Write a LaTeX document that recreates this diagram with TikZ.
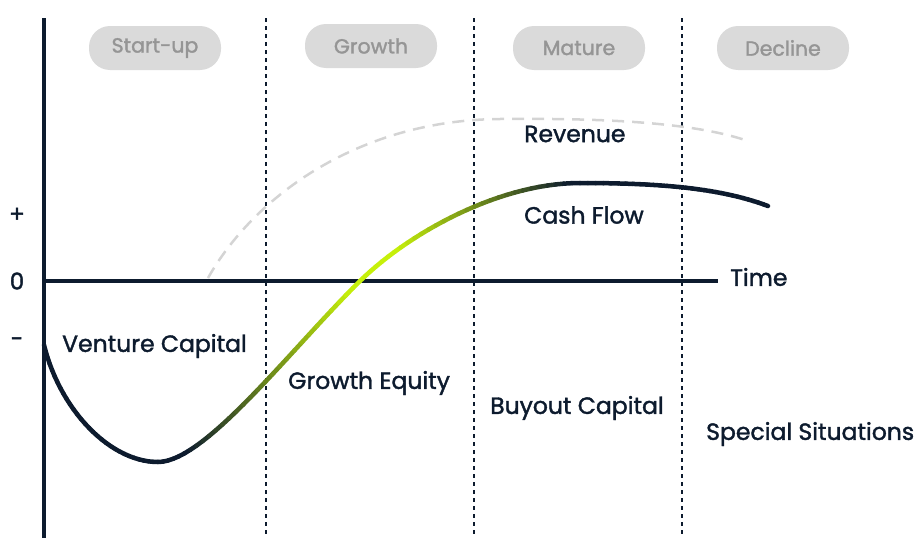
\documentclass[tikz,border=0pt]{standalone}
\usepackage{fontspec}
\setmainfont{Poppins}[UprightFeatures={FakeBold=1.6}]
\definecolor{navy}{HTML}{0D1B2E}
\definecolor{lime}{HTML}{C6F00A}
\definecolor{pillgrey}{HTML}{DADADA}
\definecolor{pilltext}{HTML}{959595}
\definecolor{revgrey}{HTML}{D4D4D4}
\newdimen\cfx
\begin{document}
\begin{tikzpicture}[x=1pt,y=-1pt,
  phase/.style={fill=pillgrey, text=pilltext, rounded corners=21pt,
    minimum width=132pt, minimum height=44pt, inner sep=0pt,
    font=\fontsize{20.5}{20.5}\selectfont},
  lbl/.style={text=navy, font=\fontsize{23.5}{23.5}\selectfont, inner sep=0pt, anchor=west},
  sign/.style={text=navy, font=\fontsize{23}{23}\selectfont, inner sep=0pt},
  divider/.style={navy, line width=2.4pt, dash pattern=on 4pt off 4pt},
  axis/.style={navy, line width=4pt},
  revenue/.style={revgrey, line width=2.5pt, dash pattern=on 12pt off 8pt},
  flow/.style={line width=4.5pt, line cap=round},
]
\useasboundingbox (0,0) rectangle (924,538);

% axes
\coordinate (ytop) at (44,18);
\coordinate (ybot) at (44,538);
\coordinate (origin) at (44,281);
\coordinate (xend) at (718,281);

% phase dividers
\foreach \n/\x in {d1/266, d2/474, d3/682} {
  \coordinate (\n top) at (\x,18);
  \coordinate (\n bot) at (\x,538);
  \draw[divider] (\n top) -- (\n bot);
}

% revenue curve
\coordinate (r0) at (208,278);
\coordinate (r1) at (500,119);
\coordinate (r2) at (745,140);
\draw[revenue] (r0) .. controls (255,195) and (360,120) .. (r1)
               .. controls (600,118) and (690,122) .. (r2);

\draw[axis] (ytop) -- (ybot);
\draw[axis] (origin) -- (xend);

% cash flow curve, built from four cubic pieces
\coordinate (k0) at (44,345);   \coordinate (k1) at (60,410);
\coordinate (k2) at (110,462);  \coordinate (k3) at (158,462);
\coordinate (k4) at (205,462);  \coordinate (k5) at (290,350);
\coordinate (k6) at (360,281);  \coordinate (k7) at (410,232);
\coordinate (k8) at (500,183);  \coordinate (k9) at (580,183);
\coordinate (k10) at (660,183); \coordinate (k11) at (720,188);
\coordinate (k12) at (768,206);

\foreach \s/\pa/\pb/\pc/\pd in {A/k0/k1/k2/k3, B/k3/k4/k5/k6, C/k6/k7/k8/k9, D/k9/k10/k11/k12} {
  \foreach \k in {0,...,30} {
    \pgfmathsetmacro\tpos{\k/30}
    \path (\pa) .. controls (\pb) and (\pc) .. (\pd) coordinate[pos=\tpos] (cf\s\k);
  }
}

% colour each short piece by its horizontal position
\foreach \s in {A,B,C,D} {
  \foreach \k [remember=\k as \j (initially 0)] in {1,...,30} {
    \pgfextractx{\cfx}{\pgfpointanchor{cf\s\k}{center}}
    \pgfmathsetmacro\xx{\cfx}
    \pgfmathsetmacro\pp{\xx<190 ? 0 : (\xx<355 ? (\xx-190)/165*100 : (\xx<400 ? 100 : max(0,(575-\xx)/175*100)))}
    \draw[flow, color=lime!\pp!navy] (cf\s\j) -- (cf\s\k);
  }
}

% phase pills
\node[phase] (startup) at (155,48) {Start-up};
\node[phase] (growth)  at (371,46) {Growth};
\node[phase] (mature)  at (579,48) {Mature};
\node[phase] (decline) at (783,48) {Decline};

% axis marks
\node[sign] (plus)  at (17,215) {+};
\node[sign] (zero)  at (17,281) {0};
\node[sign] (minus) at (17,342) {-};
\node[lbl] (time) at (730,277) {Time};

% curve and stage labels
\node[lbl] (rev)  at (524,134) {Revenue};
\node[lbl] (cash) at (524,215) {Cash Flow};
\node[lbl] (vc)   at (62,346)  {Venture Capital};
\node[lbl] (ge)   at (288,383) {Growth Equity};
\node[lbl] (bc)   at (490,408) {Buyout Capital};
\node[lbl] (ss)   at (706,434) {Special Situations};
\end{tikzpicture}
\end{document}
